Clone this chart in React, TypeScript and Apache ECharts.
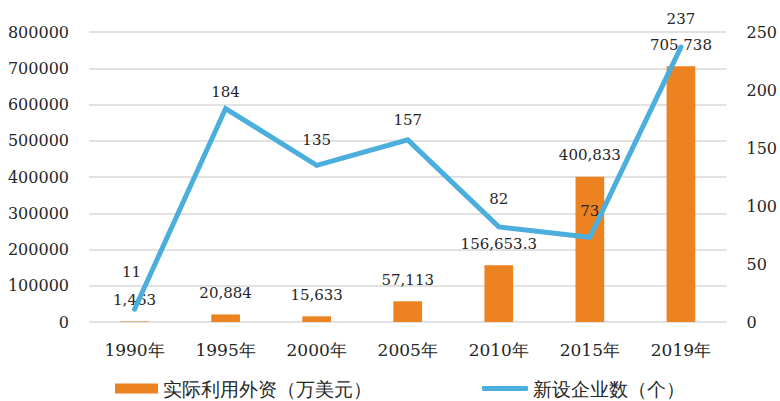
import React, { useEffect, useRef } from "react";
import * as echarts from "echarts";

const categories = ["1990年", "1995年", "2000年", "2005年", "2010年", "2015年", "2019年"];
const investment = [1463, 20884, 15633, 57113, 156653.3, 400833, 705738];
const enterprises = [11, 184, 135, 157, 82, 73, 237];
const leftTicks = { min: 0, max: 800000, interval: 100000 };
const rightTicks = { min: 0, max: 250, interval: 50 };
const barName = "实际利用外资（万美元）";
const lineName = "新设企业数（个）";

// label placement tweaks for the line labels (style only)
const lineLabelDistance = [29, 8, 17, 11, 19, 18, 20];
const lineLabelShiftX = [-3, 0, 0, 0, 0, 0, 0];

const SERIF = "DejaVu Serif";
const TEXT = "#262626";

function fmt(v: number): string {
  return v.toLocaleString("en-US", { maximumFractionDigits: 1 });
}

export default function App() {
  const ref = useRef<HTMLDivElement>(null);
  useEffect(() => {
    if (!ref.current) return;
    const chart = echarts.init(ref.current, null, { renderer: "svg" });
    chart.setOption({
      animation: false,
      backgroundColor: "#ffffff",
      textStyle: { fontFamily: SERIF },
      grid: { left: 89, right: 50, top: 32, bottom: 79, containLabel: false },
      legend: [
        {
          data: [barName],
          left: 110,
          top: 373,
          itemWidth: 43,
          itemHeight: 10,
          icon: "rect",
          textStyle: { fontFamily: SERIF, fontSize: 19, lineHeight: 21, color: TEXT },
        },
        {
          data: [lineName],
          left: 477,
          top: 373,
          itemWidth: 46,
          itemHeight: 5,
          icon: "roundRect",
          textStyle: { fontFamily: SERIF, fontSize: 19, lineHeight: 21, color: TEXT },
        },
      ],
      xAxis: {
        type: "category",
        data: categories,
        axisLine: { show: false },
        axisTick: { show: false },
        axisLabel: { fontFamily: SERIF, fontSize: 17, color: TEXT, margin: 19 },
      },
      yAxis: [
        {
          type: "value",
          ...leftTicks,
          axisLine: { show: false },
          axisTick: { show: false },
          axisLabel: {
            fontFamily: SERIF,
            fontSize: 16,
            color: TEXT,
            margin: 20,
            formatter: (v: number) => String(v),
          },
          splitLine: { lineStyle: { color: "#D9D9D9", width: 1.5 } },
        },
        {
          type: "value",
          ...rightTicks,
          axisLine: { show: false },
          axisTick: { show: false },
          axisLabel: {
            fontFamily: SERIF,
            fontSize: 16,
            color: TEXT,
            margin: 20,
            formatter: (v: number) => String(v),
          },
          splitLine: { show: false },
        },
      ],
      series: [
        {
          name: barName,
          type: "bar",
          yAxisIndex: 0,
          data: investment,
          barWidth: "31.5%",
          itemStyle: { color: "#EC8220" },
          label: {
            show: true,
            position: "top",
            distance: 14,
            fontFamily: SERIF,
            fontSize: 15,
            color: TEXT,
            formatter: (p: any) => fmt(p.value),
          },
          z: 2,
        },
        {
          name: lineName,
          type: "line",
          yAxisIndex: 1,
          data: enterprises.map((v, i) => ({
            value: v,
            label: { distance: lineLabelDistance[i], offset: [lineLabelShiftX[i], 0] },
          })),
          symbol: "circle",
          symbolSize: 2,
          showSymbol: true,
          itemStyle: { color: "#4BAEDD" },
          lineStyle: { color: "#4BAEDD", width: 5, cap: "round", join: "miter" },
          label: {
            show: true,
            position: "top",
            fontFamily: SERIF,
            fontSize: 15,
            color: TEXT,
          },
          z: 3,
        },
      ],
    });
    return () => chart.dispose();
  }, []);
  return <div ref={ref} style={{ width: 780, height: 401, position: "absolute", left: 0, top: 0 }} />;
}
